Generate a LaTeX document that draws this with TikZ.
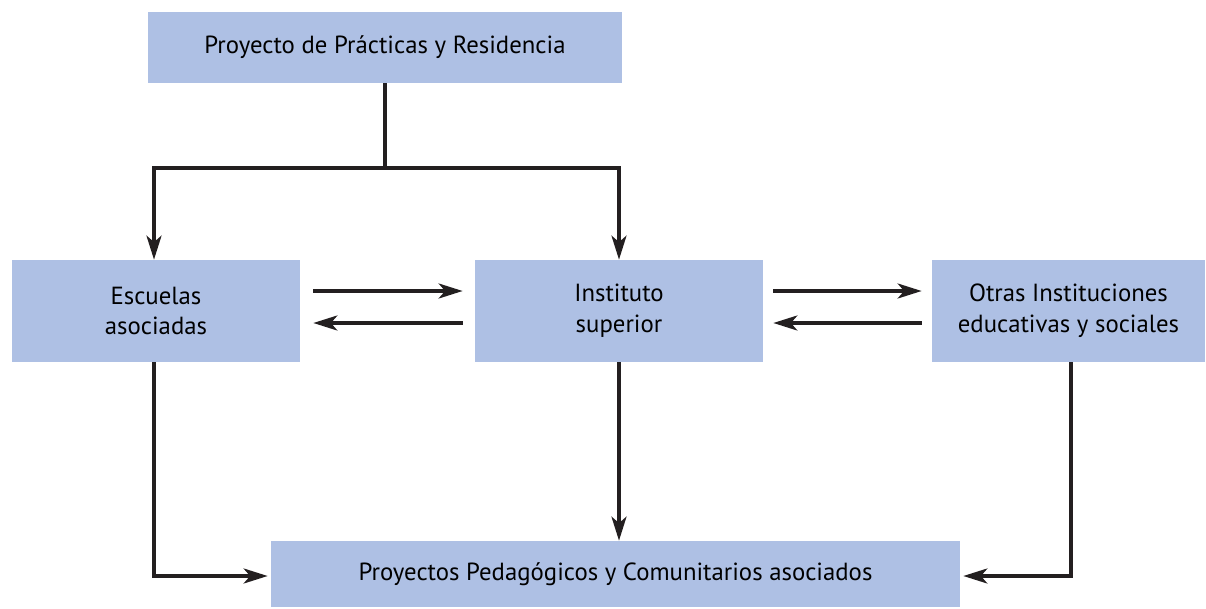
\documentclass[tikz,border=0pt]{standalone}
\usepackage{fontspec}
\setmainfont{PT Sans}
\usetikzlibrary{arrows.meta}
\definecolor{boxblue}{RGB}{174,192,228}
\definecolor{linedark}{RGB}{35,31,32}

\begin{document}
\begin{tikzpicture}
  [box/.style={fill=boxblue, draw=none, align=center, inner sep=0pt,
     font=\fontsize{14.1}{17.5}\selectfont},
   link/.style={draw=linedark, line width=1.9pt},
   arr/.style={link, -{Stealth[length=0.48cm, width=0.30cm, inset=0.13cm]}}]
  \useasboundingbox (0,0) rectangle (24.12,-12.18);

  \node[box, minimum width=9.48cm, minimum height=1.42cm] (proy) at (7.70,-0.95)  {Proyecto de Prácticas y Residencia};
  \node[box, minimum width=5.76cm, minimum height=2.04cm] (esc)  at (3.12,-6.22)  {Escuelas\\asociadas};
  \node[box, minimum width=5.76cm, minimum height=2.04cm] (inst) at (12.38,-6.22) {Instituto\\superior};
  \node[box, minimum width=5.46cm, minimum height=2.04cm] (otr)  at (21.37,-6.22) {Otras Instituciones\\educativas y sociales};
  \node[box, minimum width=13.78cm, minimum height=1.32cm] (comun) at (12.31,-11.48) {Proyectos Pedagógicos y Comunitarios asociados};

  % reparto desde el proyecto
  \coordinate (split) at (proy.south |- 0,-3.36);
  \draw[link] (proy.south) -- (split);
  \draw[arr] (split) -| ([xshift=-0.04cm]esc.north);
  \draw[arr] (split) -| (inst.north);

  % intercambios
  \draw[arr] ([xshift=0.26cm,yshift=0.40cm]esc.east)  -- ([xshift=-0.24cm,yshift=0.40cm]inst.west);
  \draw[arr] ([xshift=-0.24cm,yshift=-0.24cm]inst.west) -- ([xshift=0.26cm,yshift=-0.24cm]esc.east);
  \draw[arr] ([xshift=0.20cm,yshift=0.40cm]inst.east) -- ([xshift=-0.20cm,yshift=0.40cm]otr.west);
  \draw[arr] ([xshift=-0.20cm,yshift=-0.24cm]otr.west) -- ([xshift=0.20cm,yshift=-0.24cm]inst.east);

  % hacia los proyectos
  \draw[arr] ([xshift=-0.04cm]esc.south) |- ([xshift=-0.06cm,yshift=-0.04cm]comun.west);
  \draw[arr] (inst.south) -- (inst.south |- comun.north);
  \draw[arr] ([xshift=0.05cm]otr.south) |- ([xshift=0.06cm,yshift=-0.04cm]comun.east);
\end{tikzpicture}
\end{document}
